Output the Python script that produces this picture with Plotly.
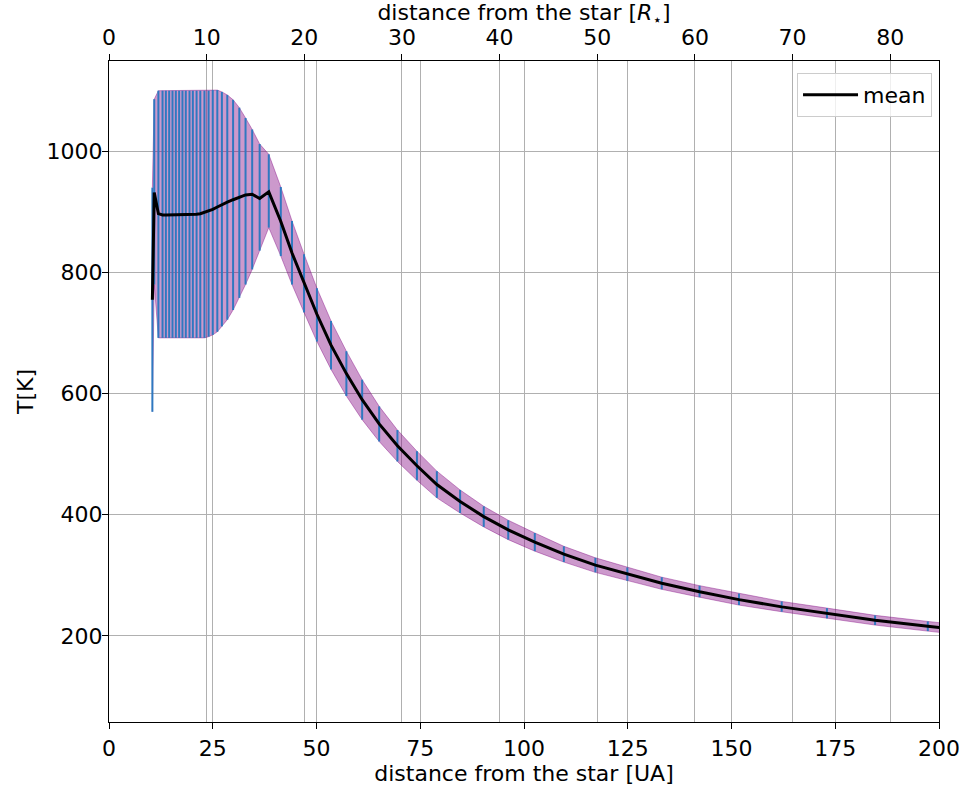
import plotly.graph_objects as go

# ---- data ----
x_ua = [10.45, 10.9, 11.9, 12.9, 13.7, 14.5, 15.3, 16.1, 16.9, 17.7,
        18.5, 19.4, 20.2, 21.1, 22.0, 23.0, 24.0, 25.0, 26.1, 27.2,
        28.5, 29.9, 31.4, 32.9, 34.5, 36.3, 38.5, 41.4, 44.1, 47.0,
        50.1, 53.5, 57.2, 61.0, 65.1, 69.5, 74.2, 79.0, 84.6, 90.3,
        96.2, 102.6, 109.6, 117.2, 124.9, 133.2, 142.3, 151.8, 162.1, 173.0,
        184.6, 197.3, 210.5]

t_mean = [755, 932, 897, 895, 895, 895, 895, 895, 895, 895,
          895, 895, 896, 896, 897, 899, 901, 904, 908, 912,
          916, 920, 924, 928, 929, 922, 933, 884, 832, 782,
          731, 680, 633, 590, 550, 514, 481, 450, 422, 397,
          375, 355, 335, 317, 302, 287, 273, 260, 248, 237,
          226, 216, 206]

t_max = [940, 1086, 1100, 1100, 1100, 1100, 1100, 1100, 1100, 1100,
         1100, 1100, 1100, 1100, 1100, 1100, 1100, 1101, 1101, 1098,
         1093, 1085, 1072, 1055, 1036, 1012, 995, 941, 885, 830,
         774, 720, 670, 623, 579, 540, 505, 472, 441, 414,
         391, 370, 348, 329, 313, 297, 283, 270, 257, 246,
         234, 224, 214]

t_min = [570, 780, 692, 692, 692, 692, 692, 692, 692, 692,
         692, 692, 692, 692, 692, 692, 694, 697, 702, 711,
         722, 738, 758, 780, 805, 836, 874, 827, 780, 734,
         686, 640, 596, 557, 521, 488, 457, 428, 403, 380,
         359, 340, 322, 305, 291, 277, 264, 251, 240, 229,
         218, 208, 198]

ua_per_rstar = 2.353          # 1 stellar radius expressed in UA (top axis scale)
x_range_ua = [0, 200]
y_range = [58, 1149]
bottom_ticks = [0, 25, 50, 75, 100, 125, 150, 175, 200]
top_ticks = [0, 10, 20, 30, 40, 50, 60, 70, 80]
y_ticks = [200, 400, 600, 800, 1000]

FONT = "DejaVu Sans"
FS = 22
band = "rgba(128,0,128,0.4)"
grid = "#b0b0b0"

err_plus = [mx - m for mx, m in zip(t_max, t_mean)]
err_minus = [m - mn for m, mn in zip(t_mean, t_min)]

fig = go.Figure()
fig.add_trace(go.Scatter(x=x_ua, y=t_max, mode="lines",
                         line=dict(color=band, width=1),
                         showlegend=False, hoverinfo="skip"))
fig.add_trace(go.Scatter(x=x_ua, y=t_min, mode="lines", fill="tonexty",
                         fillcolor=band, line=dict(color=band, width=1),
                         showlegend=False, hoverinfo="skip"))
fig.add_trace(go.Scatter(x=x_ua, y=t_mean, mode="markers",
                         marker=dict(size=1, color="rgba(0,0,0,0)"),
                         error_y=dict(type="data", symmetric=False,
                                      array=err_plus, arrayminus=err_minus,
                                      width=0, thickness=2, color="#2f78c0"),
                         showlegend=False, hoverinfo="skip"))
fig.add_trace(go.Scatter(x=x_ua, y=t_mean, mode="lines",
                         line=dict(color="black", width=3), name="mean"))
fig.add_trace(go.Scatter(x=[v / ua_per_rstar for v in x_range_ua], y=[None, None],
                         xaxis="x2", mode="lines", showlegend=False, hoverinfo="skip"))

axis_common = dict(showgrid=True, gridcolor=grid, gridwidth=1, automargin=False,
                   showline=True, linecolor="black", linewidth=1.3,
                   ticks="outside", ticklen=6, tickwidth=1.3, tickcolor="black",
                   zeroline=False, tickfont=dict(family=FONT, size=FS, color="black"))

fig.update_layout(
    width=963, height=787,
    margin=dict(l=109, r=24, t=61, b=65, autoexpand=False),
    paper_bgcolor="white", plot_bgcolor="white",
    font=dict(family=FONT, size=FS, color="black"),
    xaxis=dict(range=x_range_ua, tickvals=bottom_ticks,
               title=dict(text="distance from the star [UA]", standoff=0,
                          font=dict(family=FONT, size=FS)),
               **axis_common),
    xaxis2=dict(range=[v / ua_per_rstar for v in x_range_ua], tickvals=top_ticks,
                overlaying="x", side="top", anchor="y",
                title=dict(text="distance from the star [<i>R</i><sub>⋆</sub>]", standoff=5,
                           font=dict(family=FONT, size=FS)),
                **axis_common),
    yaxis=dict(range=y_range, tickvals=y_ticks, mirror=True, ticklabelstandoff=-5,
               title=dict(text="T[K]", standoff=6, font=dict(family=FONT, size=FS)),
               **axis_common),
    legend=dict(x=0.9916, y=0.982, xanchor="right", yanchor="top",
                bgcolor="rgba(255,255,255,0.8)", bordercolor="#cccccc", borderwidth=1,
                font=dict(family=FONT, size=FS), itemwidth=55),
    showlegend=True,
)

# remove the browser's default 8px body margin so the figure sits at (0, 0)
fig.write_html("out.html", config={"displayModeBar": False},
               post_script="document.body.style.margin='0px';document.body.style.padding='0px';")
